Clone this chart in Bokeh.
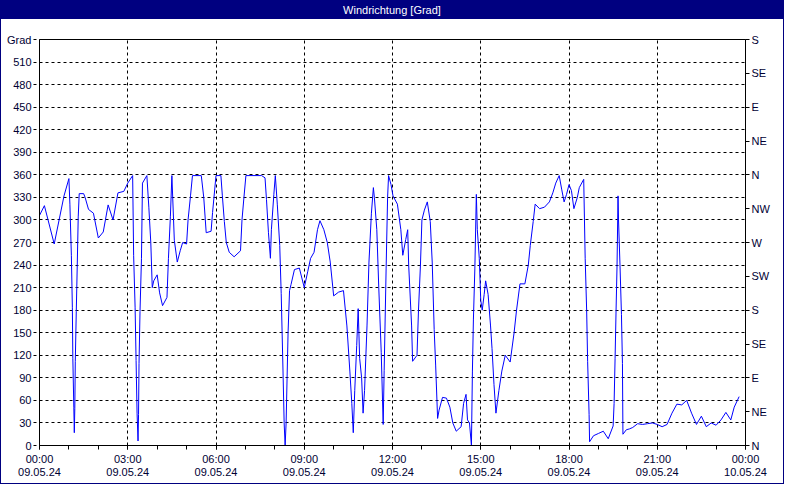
from bokeh.plotting import figure
from bokeh.models import Range1d, LinearAxis, FixedTicker, Div, Grid, ColumnDataSource
from bokeh.layouts import column
from bokeh.embed import file_html
from bokeh.resources import INLINE

# ---- data (minutes after 09.05.24 00:00, wind direction in degrees) ----
minutes = [0, 10, 30, 50, 60, 62, 65, 67, 68, 70, 71, 72, 73, 75, 77, 79, 81, 90, 93, 100,
           110, 120, 130, 140, 150, 160, 172, 180, 190, 192, 195, 197, 199, 201, 202, 203, 205, 208, 210, 219,
           223, 227, 230, 233, 240, 245, 251, 260, 263, 267, 270, 275, 281, 287, 292, 300, 303, 308, 312, 330,
           335, 340, 350, 353, 360, 370, 373, 377, 381, 387, 397, 410, 413, 417, 421, 453, 460, 463, 467, 471,
           473, 478, 481, 485, 490, 493, 497, 499, 501, 503, 505, 507, 510, 513, 520, 530, 540, 547, 553, 560,
           567, 572, 580, 587, 593, 600, 610, 620, 627, 633, 637, 640, 643, 647, 650, 653, 657, 660, 663, 668,
           672, 677, 681, 683, 688, 692, 697, 701, 703, 707, 710, 712, 717, 721, 730, 737, 741, 747, 751, 753,
           759, 761, 770, 773, 777, 780, 785, 791, 797, 801, 805, 808, 812, 815, 822, 830, 837, 843, 850, 860,
           865, 870, 873, 877, 881, 883, 885, 888, 891, 893, 897, 900, 903, 907, 910, 915, 920, 923, 927, 931,
           937, 943, 950, 960, 968, 973, 980, 990, 997, 1001, 1007, 1011, 1020, 1030, 1040, 1047, 1053, 1060, 1065, 1070,
           1075, 1080, 1085, 1090, 1097, 1101, 1110, 1113, 1116, 1118, 1121, 1122, 1130, 1140, 1150, 1160, 1170, 1172, 1174, 1176,
           1178, 1180, 1181, 1184, 1187, 1189, 1190, 1197, 1203, 1210, 1220, 1230, 1240, 1250, 1260, 1270, 1280, 1290, 1300, 1310,
           1320, 1330, 1340, 1350, 1360, 1370, 1380, 1390, 1400, 1410, 1417, 1427]
direction = [306, 319, 268, 332, 355, 321, 253, 184, 116, 51, 17, 49, 112, 178, 240, 304, 335, 335, 330, 314,
             309, 276, 284, 320, 300, 336, 338, 349, 359, 253, 184, 113, 43, 6, 41, 109, 178, 249, 349, 359,
             317, 270, 210, 219, 227, 203, 186, 197, 249, 305, 359, 273, 244, 259, 270, 268, 300, 332, 359, 359,
             330, 283, 285, 310, 359, 359, 332, 298, 270, 257, 251, 259, 300, 330, 359, 359, 356, 327, 283, 249,
             287, 334, 359, 321, 266, 202, 90, 30, 0, 30, 90, 150, 206, 214, 234, 236, 210, 231, 249, 257,
             287, 299, 287, 270, 244, 199, 204, 206, 159, 99, 56, 17, 73, 133, 182, 116, 90, 43, 73, 159,
             244, 309, 343, 330, 287, 210, 124, 28, 100, 236, 330, 359, 347, 332, 321, 287, 253, 274, 287, 240,
             159, 112, 120, 180, 240, 300, 313, 324, 298, 244, 154, 107, 36, 47, 64, 63, 51, 30, 19, 25,
             56, 68, 34, 30, 0, 99, 167, 236, 334, 287, 249, 193, 180, 201, 219, 201, 159, 129, 81, 43,
             73, 99, 120, 111, 150, 180, 215, 215, 240, 266, 298, 321, 315, 317, 324, 336, 349, 359, 341, 324,
             334, 347, 339, 315, 330, 343, 354, 249, 180, 112, 41, 5, 13, 16, 19, 9, 26, 56, 116, 180,
             240, 332, 300, 240, 174, 109, 15, 21, 22, 24, 29, 28, 29, 30, 28, 25, 28, 43, 55, 54,
             60, 43, 28, 39, 25, 30, 27, 34, 44, 34, 51, 65]

tick_hours = [0, 3, 6, 9, 12, 15, 18, 21, 24]
time_labels = ["00:00", "03:00", "06:00", "09:00", "12:00", "15:00", "18:00", "21:00", "00:00"]
date_labels = ["09.05.24", "09.05.24", "09.05.24", "09.05.24", "09.05.24",
               "09.05.24", "09.05.24", "09.05.24", "10.05.24"]
deg_ticks = list(range(0, 541, 30))
deg_labels = [str(d) for d in range(0, 511, 30)] + ["Grad"]
compass_ticks = list(range(0, 541, 45))
compass_labels = ["N", "NE", "E", "SE", "S", "SW", "W", "NW", "N", "NE", "E", "SE", "S"]
title_text = "Windrichtung [Grad]"

FONT = "Liberation Sans"
FS = "11px"
TXT = "#000033"

src = ColumnDataSource(data=dict(h=[m / 60.0 for m in minutes], d=direction))

p = figure(frame_width=706, frame_height=406,
           x_range=Range1d(0, 24), y_range=Range1d(0, 540),
           x_axis_type=None, y_axis_type=None,
           output_backend="svg", toolbar_location=None,
           min_border_left=38, min_border_right=38, min_border_top=20, min_border_bottom=38,
           background_fill_color="white", border_fill_color="white")
p.outline_line_color = "black"
p.outline_line_width = 1
p.margin = 0

# grids
p.add_layout(Grid(dimension=0, ticker=FixedTicker(ticks=tick_hours[1:-1]),
                  grid_line_color="black", grid_line_dash="3 3", grid_line_width=1))
p.add_layout(Grid(dimension=1, ticker=FixedTicker(ticks=deg_ticks[1:-1]),
                  grid_line_color="black", grid_line_dash="3 3", grid_line_width=1))


def style(ax):
    ax.major_label_text_font = FONT
    ax.major_label_text_font_size = FS
    ax.major_label_text_color = TXT
    ax.axis_line_color = "black"
    ax.major_tick_line_color = "black"
    ax.minor_tick_line_color = "black"
    ax.major_tick_in = 0
    ax.minor_tick_in = 0


xa = LinearAxis(ticker=FixedTicker(ticks=tick_hours, minor_ticks=list(range(25))),
                major_label_overrides={h: t for h, t in zip(tick_hours, time_labels)})
style(xa)
xa.major_tick_out = 4
xa.minor_tick_out = 4
xa.major_label_standoff = 3
p.add_layout(xa, "below")

xd = LinearAxis(ticker=FixedTicker(ticks=tick_hours),
                major_label_overrides={h: t for h, t in zip(tick_hours, date_labels)})
style(xd)
xd.axis_line_color = None
xd.major_tick_line_color = None
xd.minor_tick_line_color = None
xd.major_tick_out = 0
xd.minor_tick_out = 0
xd.major_label_standoff = 0
p.add_layout(xd, "below")

ya = LinearAxis(ticker=FixedTicker(ticks=deg_ticks),
                major_label_overrides={t: l for t, l in zip(deg_ticks, deg_labels)})
style(ya)
ya.major_tick_out = 6
ya.major_tick_line_dash = "3 3"
ya.major_label_standoff = 2
p.add_layout(ya, "left")

yr = LinearAxis(ticker=FixedTicker(ticks=compass_ticks),
                major_label_overrides={t: l for t, l in zip(compass_ticks, compass_labels)})
style(yr)
yr.major_tick_out = 4
yr.major_label_standoff = 2
p.add_layout(yr, "right")

p.line("h", "d", source=src, line_color="#0000FF", line_width=1)

title = Div(text=title_text, width=782, height=18, margin=0,
            styles={"background-color": "#000080", "color": "white", "text-align": "center",
                    "font-family": FONT, "font-size": "11px", "line-height": "18px",
                    "width": "782px"})

layout = column(title, p, margin=0, spacing=0,
                styles={"border": "1px solid #000080"})

open("out.html", "w").write(file_html(layout, INLINE))
